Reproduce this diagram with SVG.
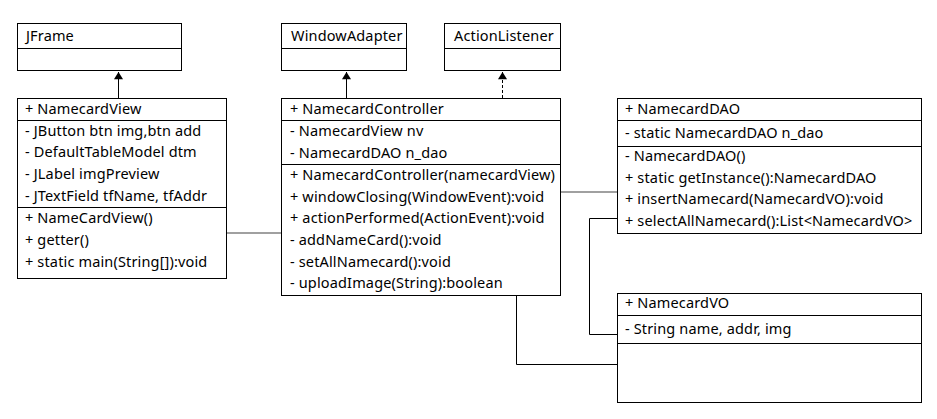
<svg xmlns="http://www.w3.org/2000/svg" width="937" height="419" viewBox="0 0 937 419">
<style>
  .box { fill: #ffffff; stroke: #000000; stroke-width: 1; }
  .div { stroke: #000000; stroke-width: 1; }
  text { font-family: "Noto Sans", "Open Sans", "Noto Sans CJK KR", sans-serif; font-size: 14.5px; letter-spacing: 0.15px; fill: #000000; }
  .conn { fill: none; stroke: #000000; stroke-width: 1; }
  .gray { stroke: #808080; stroke-width: 1.5; }
  .dash { stroke-dasharray: 3 2; }
</style>
<defs>
  <marker id="arrow" viewBox="0 0 8 10" refX="8" refY="5" markerWidth="8" markerHeight="9" markerUnits="userSpaceOnUse" orient="auto">
    <path d="M0,0 L8,5 L0,10 z" fill="#000000"/>
  </marker>
</defs>

<g id="connectors">
  <line class="conn" x1="118.5" y1="98" x2="118.5" y2="72" marker-end="url(#arrow)"/>
  <line class="conn" x1="346.5" y1="98" x2="346.5" y2="72" marker-end="url(#arrow)"/>
  <line class="conn dash" x1="502.5" y1="98" x2="502.5" y2="72" marker-end="url(#arrow)"/>
  <line class="conn gray" x1="226" y1="233" x2="281" y2="233"/>
  <line class="conn gray" x1="561" y1="192" x2="617" y2="192"/>
  <polyline class="conn" points="617,218.5 589.5,218.5 589.5,334.5 617,334.5"/>
  <polyline class="conn" points="516.5,296 516.5,364.5 617,364.5"/>
</g>

<g id="JFrame">
  <rect class="box" x="17.5" y="23.5" width="164" height="47"/>
  <line class="div" x1="17.5" y1="48.5" x2="181.5" y2="48.5"/>
  <text x="26" y="41">JFrame</text>
</g>

<g id="WindowAdapter">
  <rect class="box" x="281.5" y="23.5" width="125" height="47"/>
  <line class="div" x1="281.5" y1="48.5" x2="406.5" y2="48.5"/>
  <text x="291" y="41">WindowAdapter</text>
</g>

<g id="ActionListener">
  <rect class="box" x="444.5" y="23.5" width="116" height="47"/>
  <line class="div" x1="444.5" y1="48.5" x2="560.5" y2="48.5"/>
  <text x="454" y="41">ActionListener</text>
</g>

<g id="NamecardView">
  <rect class="box" x="17.5" y="98.5" width="209" height="180"/>
  <line class="div" x1="17.5" y1="120.5" x2="226.5" y2="120.5"/>
  <line class="div" x1="17.5" y1="207.5" x2="226.5" y2="207.5"/>
  <text x="25" y="114">+ NamecardView</text>
  <text x="25" y="136">- JButton btn img,btn add</text>
  <text x="25" y="157">- DefaultTableModel dtm</text>
  <text x="25" y="179">- JLabel imgPreview</text>
  <text x="25" y="201">- JTextField tfName, tfAddr</text>
  <text x="25" y="223">+ NameCardView()</text>
  <text x="25" y="245">+ getter()</text>
  <text x="25" y="267">+ static main(String[]):void</text>
</g>

<g id="NamecardController">
  <rect class="box" x="281.5" y="98.5" width="279" height="197"/>
  <line class="div" x1="281.5" y1="120.5" x2="560.5" y2="120.5"/>
  <line class="div" x1="281.5" y1="164.5" x2="560.5" y2="164.5"/>
  <text x="290" y="114">+ NamecardController</text>
  <text x="290" y="136">- NamecardView nv</text>
  <text x="290" y="158">- NamecardDAO n_dao</text>
  <text x="290" y="180">+ NamecardController(namecardView)</text>
  <text x="290" y="202">+ windowClosing(WindowEvent):void</text>
  <text x="290" y="223">+ actionPerformed(ActionEvent):void</text>
  <text x="290" y="245">- addNameCard():void</text>
  <text x="290" y="267">- setAllNamecard():void</text>
  <text x="290" y="288">- uploadImage(String):boolean</text>
</g>

<g id="NamecardDAO">
  <rect class="box" x="617.5" y="98.5" width="304" height="135"/>
  <line class="div" x1="617.5" y1="120.5" x2="921.5" y2="120.5"/>
  <line class="div" x1="617.5" y1="146.5" x2="921.5" y2="146.5"/>
  <text x="625" y="114">+ NamecardDAO</text>
  <text x="625" y="138">- static NamecardDAO n_dao</text>
  <text x="625" y="161">- NamecardDAO()</text>
  <text x="625" y="183">+ static getInstance():NamecardDAO</text>
  <text x="625" y="204">+ insertNamecard(NamecardVO):void</text>
  <text x="625" y="226">+ selectAllNamecard():List&lt;NamecardVO&gt;</text>
</g>

<g id="NamecardVO">
  <rect class="box" x="617.5" y="293.5" width="304" height="109"/>
  <line class="div" x1="617.5" y1="315.5" x2="921.5" y2="315.5"/>
  <line class="div" x1="617.5" y1="343.5" x2="921.5" y2="343.5"/>
  <text x="625" y="308">+ NamecardVO</text>
  <text x="625" y="334">- String name, addr, img</text>
</g>
</svg>
